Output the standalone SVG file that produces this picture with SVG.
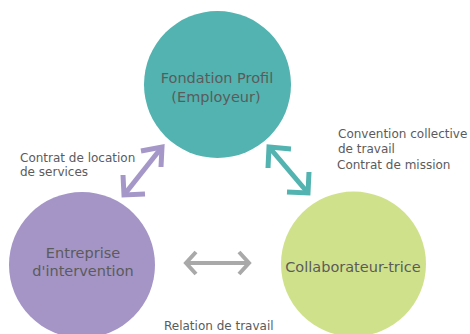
<svg xmlns="http://www.w3.org/2000/svg" width="470" height="334" viewBox="0 0 470 334">
<style>
  .lbl { font-family: "DejaVu Sans", "Liberation Sans", sans-serif; fill: #5b5b5b; }
  .big { font-size: 14.5px; text-anchor: middle; }
  .small { font-size: 12px; }
  .arr { fill: none; stroke-width: 5; stroke-linecap: butt; stroke-linejoin: miter; }
</style>
<rect width="470" height="334" fill="#ffffff"/>
<g id="connectors">
  <g class="arr" stroke="#a597c8">
    <line x1="124" y1="195" x2="162" y2="147"/>
    <polyline points="141,151 162,147 161,167"/>
    <polyline points="123,175 124,195 145,194"/>
  </g>
  <g class="arr" stroke="#52b3b0">
    <line x1="269" y1="147" x2="308" y2="193"/>
    <polyline points="291,149 269,147 268,168"/>
    <polyline points="309,172 308,193 287,192"/>
  </g>
  <g class="arr" stroke="#a9a9a9" style="stroke-width:4">
    <line x1="187" y1="263" x2="248" y2="263"/>
    <polyline points="196,252 186,263 196,274"/>
    <polyline points="239,252 249,263 239,274"/>
  </g>
</g>
<g id="node-fondation">
  <circle cx="217.5" cy="84.5" r="73.5" fill="#52b3b0"/>
  <text class="lbl big" x="217" y="83">Fondation Profil</text>
  <text class="lbl big" x="216" y="102">(Employeur)</text>
</g>
<g id="node-entreprise">
  <circle cx="82" cy="265" r="73" fill="#a495c6"/>
  <text class="lbl big" x="83" y="258">Entreprise</text>
  <text class="lbl big" x="83" y="276">d'intervention</text>
</g>
<g id="node-collaborateur">
  <circle cx="353.5" cy="264" r="72.5" fill="#d0e18c"/>
  <text class="lbl big" x="353" y="272">Collaborateur-trice</text>
</g>
<g id="labels">
  <text class="lbl small" x="20" y="162">Contrat de location</text>
  <text class="lbl small" x="20" y="176">de services</text>
  <text class="lbl small" x="338" y="138">Convention collective</text>
  <text class="lbl small" x="338" y="153">de travail</text>
  <text class="lbl small" x="337" y="169">Contrat de mission</text>
  <text class="lbl small" x="164" y="330">Relation de travail</text>
</g>
</svg>
